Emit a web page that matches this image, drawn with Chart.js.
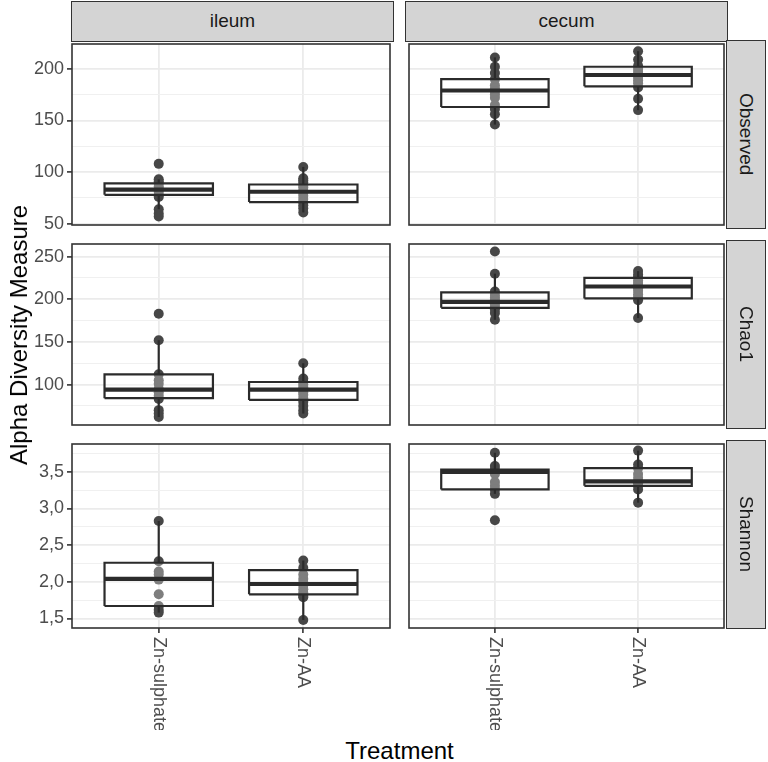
<!DOCTYPE html>
<html>
<head>
<meta charset="utf-8">
<script src="https://cdn.jsdelivr.net/npm/chart.js@4.4.1/dist/chart.umd.min.js"></script>
<style>
  body { margin: 0; background: #fff; }
  #wrap { position: relative; width: 768px; height: 762px; overflow: hidden; font-family: 'Liberation Sans', Arial, sans-serif; }
  #wrap canvas { position: absolute; }
  .strip { position: absolute; box-sizing: border-box; background: #d4d4d4; border: 1.6px solid #333; color: #1a1a1a; font-size: 19px; display: flex; align-items: center; justify-content: center; }
  .strip.right span { writing-mode: vertical-rl; }
  .axis-title { position: absolute; font-size: 24px; color: #000; white-space: nowrap; transform: translate(-50%, -50%); }
</style>
</head>
<body>
<div id="wrap"></div>
<script>
const tissues = ['ileum', 'cecum'];
const measures = ['Observed', 'Chao1', 'Shannon'];
const treatments = ['Zn-sulphate', 'Zn-AA'];
const treatmentPos = [1, 2];

// y range and ticks, one entry per measure (row)
const yMins = [48.8, 52.6, 1.37];
const yMaxs = [224, 264.8, 3.88];
const yMajor = [[50, 100, 150, 200], [100, 150, 200, 250], [1.5, 2, 2.5, 3, 3.5]];
const yMinor = [[75, 125, 175], [75, 125, 175, 225], [1.75, 2.25, 2.75, 3.25, 3.75]];
const yDecimals = [0, 0, 1];

// box stats [lower whisker, q1, median, q3, upper whisker] -> [tissue][treatment]
const observedBoxes = [
  [[64, 78, 83, 89, 93], [61, 71, 81, 88, 105]],
  [[146, 163, 179, 190, 211], [160, 183, 194, 202, 217]]
];
const chao1Boxes = [
  [[62, 84, 94, 112, 152], [66, 82, 94, 103, 125]],
  [[176, 190, 197, 208, 230], [178, 201, 215, 225, 233]]
];
const shannonBoxes = [
  [[1.58, 1.67, 2.04, 2.26, 2.83], [1.48, 1.83, 1.97, 2.16, 2.29]],
  [[3.20, 3.26, 3.50, 3.53, 3.76], [3.08, 3.31, 3.37, 3.55, 3.79]]
];

// sample values -> [tissue][treatment]
const observedPoints = [
  [[108, 93, 91, 89, 86, 84, 83, 81, 78, 76, 64, 60, 57], [105, 94, 92, 90, 87, 85, 82, 80, 77, 74, 71, 68, 65, 61]],
  [[211, 202, 196, 190, 184, 181, 178, 175, 172, 165, 161, 156, 146], [217, 209, 203, 200, 197, 194, 192, 189, 186, 182, 171, 160]]
];
const chao1Points = [
  [[183, 152, 112, 105, 101, 95, 91, 87, 83, 70, 66, 62], [125, 107, 103, 100, 97, 94, 91, 88, 84, 80, 75, 70, 66]],
  [[256, 230, 209, 205, 202, 199, 197, 194, 191, 188, 184, 176], [233, 229, 226, 222, 219, 216, 213, 210, 206, 203, 199, 178]]
];
const shannonPoints = [
  [[2.83, 2.28, 2.14, 2.10, 2.03, 1.83, 1.67, 1.62, 1.58], [2.29, 2.19, 2.10, 2.04, 1.99, 1.95, 1.90, 1.85, 1.81, 1.79, 1.48]],
  [[3.76, 3.58, 3.53, 3.50, 3.47, 3.36, 3.31, 3.26, 3.20, 2.84], [3.79, 3.60, 3.55, 3.47, 3.42, 3.37, 3.34, 3.31, 3.26, 3.08]]
];

const boxStats = [observedBoxes, chao1Boxes, shannonBoxes];
const pointSets = [observedPoints, chao1Points, shannonPoints];

const xMin = 0.4, xMax = 2.6, boxWidth = 0.75;

// panel geometry (px)
const panelLeft = [72, 406];
const panelTop = [41, 241, 441];
const panelW = 321, panelH = 187;
const pad = 2;

const FONT = "'Liberation Sans', Arial, sans-serif";
Chart.defaults.font.family = FONT;

const lineColor = '#2b2b2b';
const pointColor = '#474747';

const wrap = document.getElementById('wrap');

const panelBorder = {
    id: 'panelBorder',
    afterDraw(chart) {
        const {ctx, chartArea} = chart;
        ctx.save();
        ctx.strokeStyle = '#333';
        ctx.lineWidth = 1.6;
        ctx.strokeRect(chartArea.left, chartArea.top, chartArea.right - chartArea.left, chartArea.bottom - chartArea.top);
        ctx.restore();
    }
};

const xLabels = {
    id: 'xLabels',
    afterDraw(chart, args, opts) {
        if (!opts.show) return;
        const {ctx, chartArea, scales} = chart;
        ctx.save();
        ctx.fillStyle = '#4d4d4d';
        ctx.font = '18px ' + FONT;
        ctx.textAlign = 'left';
        ctx.textBaseline = 'middle';
        treatments.forEach((t, i) => {
            const px = scales.x.getPixelForValue(treatmentPos[i]);
            ctx.save();
            ctx.translate(px, chartArea.bottom + 9);
            ctx.rotate(Math.PI / 2);
            ctx.fillText(t, 0, 0);
            ctx.restore();
        });
        ctx.restore();
    }
};

function fmt(v, d) {
    return d ? v.toFixed(d).replace('.', ',') : String(v);
}

function makePanel(r, c) {
    const isLeft = c === 0;
    const isBottom = r === measures.length - 1;
    const axisW = isLeft ? panelLeft[0] : 0;
    const axisH = isBottom ? 100 : 0;

    const canvas = document.createElement('canvas');
    canvas.width = panelW + axisW + pad * 2;
    canvas.height = panelH + axisH + pad * 2;
    canvas.style.left = (panelLeft[c] - axisW - pad) + 'px';
    canvas.style.top = (panelTop[r] - pad) + 'px';
    wrap.appendChild(canvas);

    const datasets = [];
    treatmentPos.forEach((x, i) => {
        const [lo, q1, med, q3, hi] = boxStats[r][c][i];
        const hw = boxWidth / 2;
        datasets.push({
            data: pointSets[r][c][i].map(v => ({x: x, y: v})),
            pointRadius: 5,
            pointBackgroundColor: pointColor,
            pointBorderWidth: 0,
            order: 5
        });
        datasets.push({
            type: 'line',
            data: [{x: x, y: lo}, {x: x, y: q1}],
            borderColor: lineColor, borderWidth: 2.2, pointRadius: 0, order: 4
        });
        datasets.push({
            type: 'line',
            data: [{x: x, y: q3}, {x: x, y: hi}],
            borderColor: lineColor, borderWidth: 2.2, pointRadius: 0, order: 4
        });
        // box fill
        datasets.push({
            type: 'line',
            data: [{x: x - hw, y: q3}, {x: x + hw, y: q3}],
            fill: {value: q1},
            backgroundColor: 'rgba(255,255,255,0.3)',
            borderWidth: 0, pointRadius: 0, order: 3
        });
        // box outline
        datasets.push({
            type: 'line',
            data: [{x: x - hw, y: q1}, {x: x + hw, y: q1}, {x: x + hw, y: q3}, {x: x - hw, y: q3}, {x: x - hw, y: q1}],
            borderColor: lineColor, borderWidth: 2.2, borderJoinStyle: 'miter',
            fill: false, pointRadius: 0, order: 2
        });
        // median
        datasets.push({
            type: 'line',
            data: [{x: x - hw, y: med}, {x: x + hw, y: med}],
            borderColor: lineColor, borderWidth: 4.2, borderCapStyle: 'butt',
            pointRadius: 0, order: 1
        });
    });

    const major = yMajor[r];

    new Chart(canvas, {
        type: 'scatter',
        data: { datasets: datasets },
        options: {
            responsive: false,
            animation: false,
            devicePixelRatio: 1,
            layout: { padding: pad },
            plugins: {
                legend: { display: false },
                tooltip: { enabled: false },
                xLabels: { show: isBottom }
            },
            scales: {
                x: {
                    type: 'linear',
                    min: xMin,
                    max: xMax,
                    afterBuildTicks: (scale) => {
                        scale.ticks = treatmentPos.map(v => ({value: v}));
                    },
                    afterFit: (scale) => {
                        scale.height = axisH;
                        scale.paddingLeft = 0;
                        scale.paddingRight = 0;
                    },
                    border: { display: false },
                    grid: {
                        color: '#ebebeb',
                        lineWidth: 1.8,
                        drawTicks: isBottom,
                        tickLength: 5,
                        tickColor: '#333',
                        tickWidth: 1.6
                    },
                    ticks: { display: false, autoSkip: false }
                },
                y: {
                    type: 'linear',
                    min: yMins[r],
                    max: yMaxs[r],
                    afterBuildTicks: (scale) => {
                        scale.ticks = major.concat(yMinor[r]).sort((a, b) => a - b).map(v => ({value: v}));
                    },
                    afterFit: (scale) => {
                        scale.width = axisW;
                        scale.paddingTop = 0;
                        scale.paddingBottom = 0;
                    },
                    border: { display: false },
                    grid: {
                        color: (ctx) => major.includes(ctx.tick.value) ? '#ebebeb' : '#f0f0f0',
                        lineWidth: (ctx) => major.includes(ctx.tick.value) ? 1.8 : 1,
                        drawTicks: isLeft,
                        tickLength: 5,
                        tickColor: (ctx) => major.includes(ctx.tick.value) ? '#333' : 'rgba(0,0,0,0)',
                        tickWidth: 1.6
                    },
                    ticks: {
                        display: isLeft,
                        autoSkip: false,
                        color: '#4d4d4d',
                        font: { size: 18 },
                        padding: 3,
                        callback: (value) => major.includes(value) ? fmt(value, yDecimals[r]) : ''
                    }
                }
            }
        },
        plugins: [panelBorder, xLabels]
    });
}

measures.forEach((m, r) => {
    tissues.forEach((t, c) => makePanel(r, c));
});

// facet strips
tissues.forEach((t, c) => {
    const d = document.createElement('div');
    d.className = 'strip';
    d.style.left = (panelLeft[c] - 0.8) + 'px';
    d.style.top = '0.5px';
    d.style.width = (panelW + 1.6) + 'px';
    d.style.height = '41.3px';
    d.innerHTML = '<span>' + t + '</span>';
    wrap.appendChild(d);
});
measures.forEach((m, r) => {
    const d = document.createElement('div');
    d.className = 'strip right';
    d.style.left = (panelLeft[1] + panelW - 0.8) + 'px';
    d.style.top = (panelTop[r] - 0.8) + 'px';
    d.style.width = '40px';
    d.style.height = (panelH + 1.6) + 'px';
    d.innerHTML = '<span>' + m + '</span>';
    wrap.appendChild(d);
});

// axis titles
const yTitle = document.createElement('div');
yTitle.className = 'axis-title';
yTitle.textContent = 'Alpha Diversity Measure';
yTitle.style.left = '19px';
yTitle.style.top = ((panelTop[0] + panelTop[2] + panelH) / 2) + 'px';
yTitle.style.transform = 'translate(-50%, -50%) rotate(-90deg)';
wrap.appendChild(yTitle);

const xTitle = document.createElement('div');
xTitle.className = 'axis-title';
xTitle.textContent = 'Treatment';
xTitle.style.left = ((panelLeft[0] + panelLeft[1] + panelW) / 2) + 'px';
xTitle.style.top = '751px';
wrap.appendChild(xTitle);
</script>
</body>
</html>
